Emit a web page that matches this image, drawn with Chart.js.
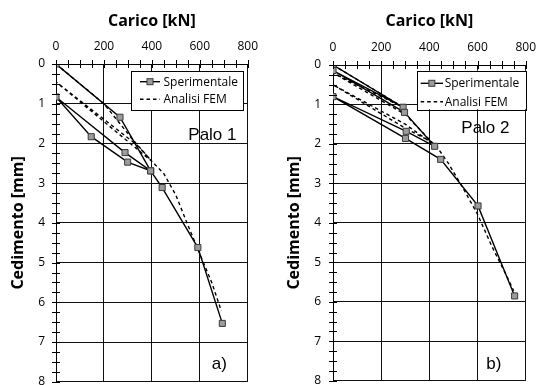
<!DOCTYPE html>
<html><head><meta charset="utf-8">
<script src="https://cdn.jsdelivr.net/npm/chart.js@4.4.1/dist/chart.umd.min.js"></script>
<style>
html,body{margin:0;padding:0;background:#fff;overflow:hidden;width:536px;height:385px;position:relative;}
#c1{position:absolute;left:0;top:0;}
#c2{position:absolute;left:268px;top:0;}
</style></head>
<body>
<canvas id="c1" width="268" height="400"></canvas>
<canvas id="c2" width="290" height="400"></canvas>
<script>
// ---- data ----
const loadTicks = [0, 200, 400, 600, 800];
const settleTicks = [0, 1, 2, 3, 4, 5, 6, 7, 8];
const seriesNames = ['Sperimentale', 'Analisi FEM'];
const panelLabels = ['Palo 1', 'Palo 2'];
const panelTags = ['a)', 'b)'];
const xTitle = 'Carico [kN]';
const yTitle = 'Cedimento [mm]';

const palo1ExpLoad   = [0, 267, 395, 288, 0,    147,  299,  395,  443,  592,  694];
const palo1ExpSettle = [0, 1.34, 2.69, 2.23, 0.83, 1.83, 2.47, 2.69, 3.11, 4.62, 6.53];
const palo1FemLoad   = [0, 200, 320, 400,  0,    340,  400,  450,  500, 550,  600,  650, 690];
const palo1FemSettle = [0, 1.0, 1.9, 2.45, 0.45, 2.05, 2.45, 2.76, 3.3, 4.05, 4.78, 5.5, 6.22];

const palo2ExpLoad   = [0, 291,  0,    297, 422,  304,  0,   301,  447,  602,  754];
const palo2ExpSettle = [0, 1.07, 0.14, 1.2, 2.06, 1.68, 0.8, 1.86, 2.39, 3.57, 5.85];
const palo2FemLoad   = [0, 300, 0,   300,  410,  300, 0,   300, 430,  480, 540,  600,  660, 720,  750];
const palo2FemSettle = [0, 1.1, 0.2, 1.25, 1.95, 1.6, 0.5, 1.5, 2.06, 2.5, 3.12, 3.78, 4.6, 5.33, 5.72];

const pts = (xs, ys) => xs.map((v, i) => ({x: v, y: ys[i]}));

const deco = {
  id: 'deco',
  afterDraw(chart, args, o) {
    const {ctx, chartArea: a, scales: {x, y}} = chart;
    ctx.save();
    // crossing tick marks
    ctx.strokeStyle = '#000'; ctx.lineWidth = 1;
    ctx.beginPath();
    for (let v = x.min; v <= x.max + 1e-9; v += o.xMinor) {
      const px = Math.round(x.getPixelForValue(v)) + 0.5;
      ctx.moveTo(px, a.top - 4); ctx.lineTo(px, a.top + 4);
    }
    for (let v = y.min; v <= y.max + 1e-9; v += o.yMinor) {
      const py = Math.round(y.getPixelForValue(v)) + 0.5;
      ctx.moveTo(a.left - 4, py); ctx.lineTo(a.left + 4, py);
    }
    ctx.stroke();
    // legend box
    const L = o.legend;
    const bx = a.left + L.x, by = a.top + L.y;
    ctx.fillStyle = '#fff';
    ctx.fillRect(bx, by, L.w, L.h);
    ctx.strokeStyle = '#000'; ctx.lineWidth = 1;
    ctx.strokeRect(Math.round(bx) + 0.5, Math.round(by) + 0.5, Math.round(L.w), Math.round(L.h));
    const ds = chart.data.datasets;
    ctx.font = '12px "Open Sans"';
    ctx.textBaseline = 'middle';
    ctx.textAlign = 'left';
    ds.forEach((d, i) => {
      const ry = by + L.rows[i];
      ctx.strokeStyle = '#000';
      ctx.lineWidth = d.borderWidth;
      ctx.setLineDash(d.borderDash || []);
      ctx.beginPath();
      ctx.moveTo(bx + L.s0, ry); ctx.lineTo(bx + L.s1, ry);
      ctx.stroke();
      ctx.setLineDash([]);
      if (d.pointRadius > 0) {
        const s = 3;
        ctx.fillStyle = d.pointBackgroundColor;
        ctx.fillRect((bx + (L.s0 + L.s1) / 2) - s, ry - s, 2 * s, 2 * s);
        ctx.lineWidth = 1; ctx.strokeStyle = d.pointBorderColor;
        ctx.strokeRect((bx + (L.s0 + L.s1) / 2) - s, ry - s, 2 * s, 2 * s);
      }
      ctx.fillStyle = '#000';
      ctx.fillText(d.label, bx + L.tx, ry + 0.5);
    });
    // panel labels
    ctx.font = '17px "Liberation Sans"';
    ctx.textBaseline = 'alphabetic';
    ctx.fillStyle = '#000';
    ctx.fillText(o.name, a.left + o.nameX, a.top + o.nameY);
    ctx.fillText(o.tag, a.left + o.tagX, a.top + o.tagY);
    ctx.restore();
  }
};

function makeChart(id, idx, expL, expS, femL, femS, lay) {
  return new Chart(document.getElementById(id), {
    type: 'line',
    data: {
      datasets: [
        {
          label: seriesNames[0], data: pts(expL, expS),
          borderColor: '#000', borderWidth: 1.4,
          pointStyle: 'rect', pointRadius: 4.3, pointBackgroundColor: '#9c9c9c',
          pointBorderColor: '#3a3a3a', pointBorderWidth: 1, tension: 0, order: 0
        },
        {
          label: seriesNames[1], data: pts(femL, femS),
          borderColor: '#000', borderWidth: 1.4, borderDash: [3.5, 3],
          pointRadius: 0, tension: 0, order: 1
        }
      ]
    },
    options: {
      responsive: false, animation: false, devicePixelRatio: 1,
      layout: {padding: {left: 0, top: 0, right: lay.padR, bottom: lay.padB}},
      plugins: {
        legend: {display: false}, tooltip: {enabled: false},
        deco: {
          xMinor: 50, yMinor: 0.25, legend: lay.legend,
          name: panelLabels[idx], nameX: lay.nameX, nameY: lay.nameY,
          tag: panelTags[idx], tagX: lay.tagX, tagY: lay.tagY
        }
      },
      scales: {
        x: {
          type: 'linear', position: 'top', min: loadTicks[0], max: loadTicks[loadTicks.length - 1],
          afterBuildTicks: s => { s.ticks = loadTicks.map(v => ({value: v})); },
          afterFit: s => { s.height = lay.xH; },
          ticks: {color: '#000', font: {family: 'Open Sans', size: 12}, padding: 10, maxRotation: 0},
          grid: {color: '#111', lineWidth: 1, drawTicks: false},
          border: {display: true, color: '#000', width: 1},
          title: {display: true, text: xTitle, color: '#000',
                  font: {family: 'Open Sans', size: 16, weight: 'bold'}, padding: {top: lay.xtPad, bottom: 0}}
        },
        y: {
          type: 'linear', reverse: true, min: settleTicks[0], max: settleTicks[settleTicks.length - 1],
          afterBuildTicks: s => { s.ticks = settleTicks.map(v => ({value: v})); },
          afterFit: s => { s.width = lay.yW; },
          ticks: {color: '#000', font: {family: 'Open Sans', size: 12}, padding: lay.yPad},
          grid: {color: '#111', lineWidth: 1, drawTicks: false},
          border: {display: true, color: '#000', width: 1},
          title: {display: true, text: yTitle, color: '#000',
                  font: {family: 'Open Sans', size: 16, weight: 'bold'}, padding: {top: lay.ytPad, bottom: 0}}
        }
      }
    },
    plugins: [deco]
  });
}

makeChart('c1', 0, palo1ExpLoad, palo1ExpSettle, palo1FemLoad, palo1FemSettle, {
  padR: 18.3, padB: 17.6, xH: 64, yW: 56, yPad: 11, xtPad: 11.4, ytPad: 8.7,
  legend: {x: 75, y: 7, w: 112, h: 39, s0: 9, s1: 29, tx: 32.5, rows: [10.7, 28.3]},
  nameX: 132.3, nameY: 76, tagX: 155.7, tagY: 305
});
makeChart('c2', 1, palo2ExpLoad, palo2ExpSettle, palo2FemLoad, palo2FemSettle, {
  padR: 32.3, padB: 17.3, xH: 65, yW: 65, yPad: 12, xtPad: 11.4, ytPad: 17.1,
  legend: {x: 84, y: 5.7, w: 109, h: 38.6, s0: 3.7, s1: 26, tx: 27.7, rows: [12.6, 31]},
  nameX: 128.3, nameY: 68, tagX: 153.3, tagY: 304
});
</script>
</body></html>
